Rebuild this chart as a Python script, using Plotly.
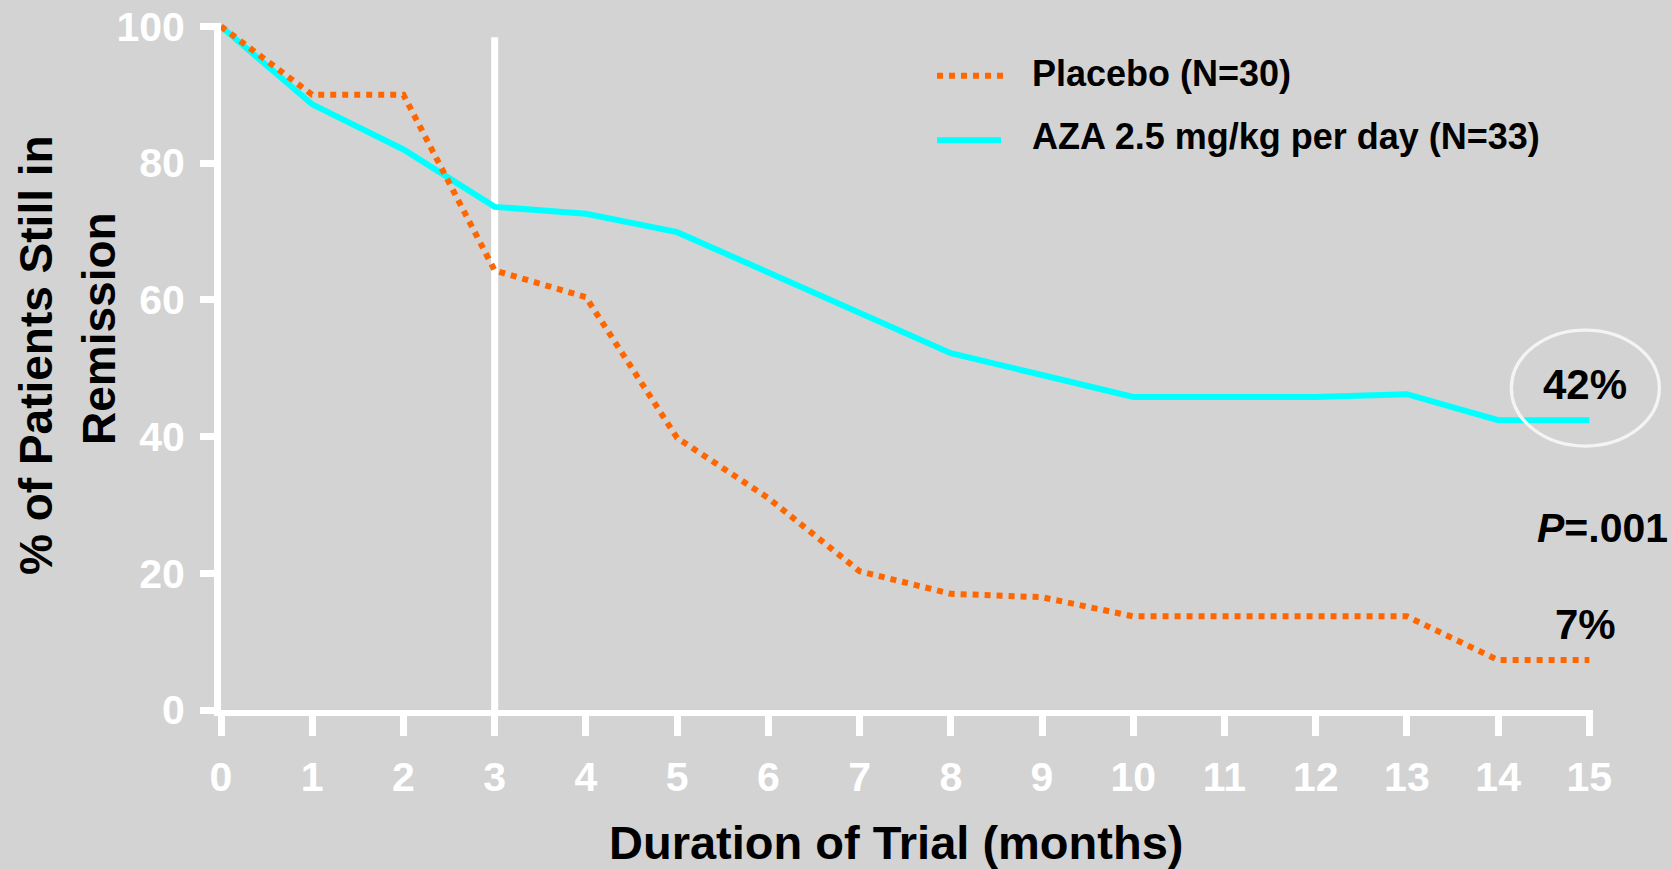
import plotly.graph_objects as go

# ---- data ----
months = list(range(0, 16))
placebo = [100, 90, 90, 64.3, 60.4, 39.8, 31.0, 20.3, 17.0, 16.5, 13.7, 13.7, 13.7, 13.7, 7.3, 7.3]
aza = [100, 88.6, 82.0, 73.6, 72.6, 69.9, 64.0, 58.0, 52.2, 49.0, 45.8, 45.8, 45.8, 46.2, 42.4, 42.4]
x_ticks = list(range(0, 16))
y_ticks = [0, 20, 40, 60, 80, 100]
series_names = ["Placebo (N=30)", "AZA 2.5 mg/kg per day (N=33)"]
marker_month = 3          # vertical reference line
marker_top = 98.4
final_labels = ["42%", "7%"]
p_value_label = "<i>P</i>=.001"

# ---- layout constants ----
W, H = 1671, 870
L, R, T, B = 221, 78, 23, 160
PW, PH = W - L - R, H - T - B
XR = [0, 15.04]
YR = [0, 100.5]
FONT = "Liberation Sans, Arial, Helvetica, sans-serif"
BG = "#D3D3D3"
ORANGE = "#FF6600"
CYAN = "#00FFFF"


def px_x(px):
    return (px - L) / PW


def px_y(py):
    return (H - B - py) / PH


def dx(x):
    return (x - XR[0]) / (XR[1] - XR[0])


def dy(y):
    return (y - YR[0]) / (YR[1] - YR[0])


fig = go.Figure()
fig.add_trace(go.Scatter(x=months, y=aza, mode="lines", name=series_names[1],
                         line=dict(color=CYAN, width=6), showlegend=False))
fig.add_trace(go.Scatter(x=months, y=placebo, mode="lines", name=series_names[0],
                         line=dict(color=ORANGE, width=6, dash="6px,6px"), showlegend=False))

shapes = []
shapes.append(dict(type="line", xref="x", yref="y", x0=marker_month, x1=marker_month,
                   y0=0, y1=marker_top, line=dict(color="white", width=7), layer="below"))
# highlight ellipse around the final AZA value (paper coords so it is not clipped)
cx, cy = dx(months[-1]) - 4 / PW, dy(aza[-1] + 4.7)
rx, ry = 74 / PW, 58 / PH
shapes.append(dict(type="circle", xref="paper", yref="paper", x0=cx - rx, x1=cx + rx,
                   y0=cy - ry, y1=cy + ry, line=dict(color="#F4F4F4", width=3.3)))
# legend samples
shapes.append(dict(type="line", xref="paper", yref="paper", x0=px_x(937), x1=px_x(1003),
                   y0=px_y(75.7), y1=px_y(75.7), line=dict(color=ORANGE, width=6, dash="6px,6px")))
shapes.append(dict(type="line", xref="paper", yref="paper", x0=px_x(937), x1=px_x(1001),
                   y0=px_y(140.3), y1=px_y(140.3), line=dict(color=CYAN, width=6)))

ann = []
ann.append(dict(text=series_names[0], xref="paper", yref="paper", x=px_x(1030), y=px_y(73.7),
                xanchor="left", yanchor="middle", showarrow=False,
                font=dict(family=FONT, size=36, color="black", weight="bold")))
ann.append(dict(text=series_names[1], xref="paper", yref="paper", x=px_x(1030), y=px_y(136.3),
                xanchor="left", yanchor="middle", showarrow=False,
                font=dict(family=FONT, size=36, color="black", weight="bold")))
ann.append(dict(text=final_labels[0], xref="x", yref="y", x=months[-1], y=47.6,
                xanchor="center", yanchor="middle", showarrow=False, xshift=-4,
                font=dict(family=FONT, size=42, color="black", weight="bold")))
ann.append(dict(text=final_labels[1], xref="x", yref="y", x=months[-1], y=12.55,
                xanchor="center", yanchor="middle", showarrow=False, xshift=-4,
                font=dict(family=FONT, size=42, color="black", weight="bold")))
ann.append(dict(text=p_value_label, xref="paper", yref="paper", x=px_x(1602), y=px_y(528),
                xanchor="center", yanchor="middle", showarrow=False,
                font=dict(family=FONT, size=41, color="black", weight="bold")))
ann.append(dict(text="Duration of Trial (months)", xref="paper", yref="paper",
                x=px_x(896), y=px_y(842), xanchor="center", yanchor="middle", showarrow=False,
                font=dict(family=FONT, size=47, color="black", weight="bold")))
ann.append(dict(text="% of Patients Still in", xref="paper", yref="paper",
                x=px_x(36), y=px_y(355), xanchor="center", yanchor="middle", showarrow=False,
                textangle=-90, font=dict(family=FONT, size=46, color="black", weight="bold")))
ann.append(dict(text="Remission", xref="paper", yref="paper",
                x=px_x(99), y=px_y(329), xanchor="center", yanchor="middle", showarrow=False,
                textangle=-90, font=dict(family=FONT, size=46, color="black", weight="bold")))

tick_font = dict(family=FONT, size=41, color="white", weight="bold")

fig.update_layout(
    width=W, height=H,
    margin=dict(l=L, r=R, t=T, b=B, pad=0, autoexpand=False),
    paper_bgcolor=BG, plot_bgcolor=BG,
    showlegend=False,
    shapes=shapes, annotations=ann,
    xaxis=dict(range=XR, tickmode="array", tickvals=x_ticks, ticklen=20, automargin=False,
               ticklabelstandoff=6, showgrid=False, zeroline=False, showline=True,
               linecolor="white", linewidth=6, ticks="outside", tickcolor="white",
               tickwidth=6.5, tickfont=tick_font),
    yaxis=dict(range=YR, tickmode="array", tickvals=y_ticks, ticklen=14, automargin=False,
               ticklabelstandoff=7, showgrid=False, zeroline=False, showline=True,
               linecolor="white", linewidth=7, ticks="outside", tickcolor="white",
               tickwidth=6.5, tickfont=tick_font),
)

fig.write_html("out.html", config={"displayModeBar": False},
               post_script="document.body.style.margin='0';document.body.style.background='%s';" % BG)
